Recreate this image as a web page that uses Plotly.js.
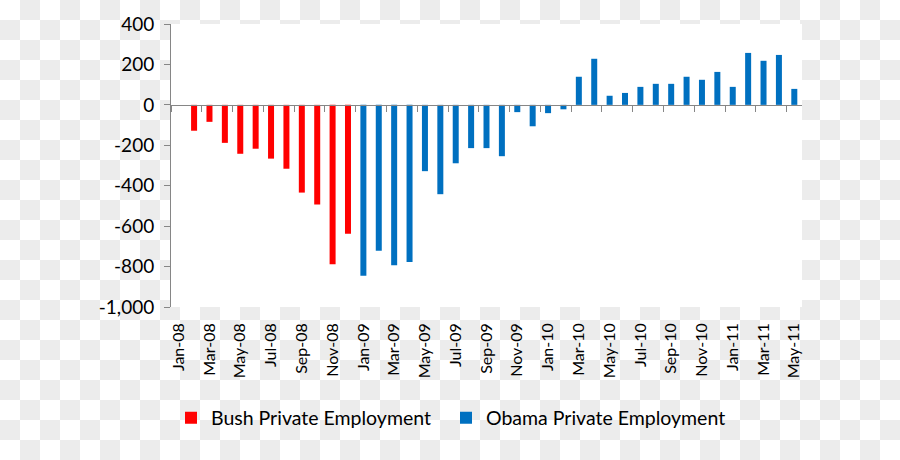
<!DOCTYPE html>
<html>
<head>
<meta charset="utf-8">
<script src="https://cdn.plot.ly/plotly-3.0.1.min.js"></script>
<style>
  html, body { margin:0; padding:0; }
  body {
    width:900px; height:460px; overflow:hidden;
    background: repeating-conic-gradient(#ececec 0 25%, #ffffff 0 50%) 0 0 / 40px 40px;
  }
  #chart { width:900px; height:460px; }
</style>
</head>
<body>
<div id="chart"></div>
<script>
// ---- data ----
const months = [
  "Jan-08","Feb-08","Mar-08","Apr-08","May-08","Jun-08","Jul-08","Aug-08","Sep-08","Oct-08","Nov-08","Dec-08",
  "Jan-09","Feb-09","Mar-09","Apr-09","May-09","Jun-09","Jul-09","Aug-09","Sep-09","Oct-09","Nov-09","Dec-09",
  "Jan-10","Feb-10","Mar-10","Apr-10","May-10","Jun-10","Jul-10","Aug-10","Sep-10","Oct-10","Nov-10","Dec-10",
  "Jan-11","Feb-11","Mar-11","Apr-11","May-11"
];
const bushPrivate = [
  null,-128,-84,-188,-242,-217,-266,-316,-434,-493,-789,-638,
  null,null,null,null,null,null,null,null,null,null,null,null,
  null,null,null,null,null,null,null,null,null,null,null,null,
  null,null,null,null,null
];
const obamaPrivate = [
  null,null,null,null,null,null,null,null,null,null,null,null,
  -846,-722,-793,-778,-328,-442,-289,-214,-214,-254,-36,-106,
  -41,-22,139,228,45,59,89,104,104,139,124,163,
  89,257,218,247,79
];
const yTickVals = [-1000,-800,-600,-400,-200,0,200,400];
const yTickText = ["-1,000","-800","-600","-400","-200","0","200","400"];
const yRange = [-1000, 400];
const seriesNames = ["Bush Private Employment","Obama Private Employment"];
const seriesColors = ["#ff0000","#0070c0"];

const axisGray = "#868686";
const zeroPos = (0 - yRange[0]) / (yRange[1] - yRange[0]);

const traces = [
  { type:"bar", name:seriesNames[0], x:months, y:bushPrivate,
    marker:{color:seriesColors[0]}, xaxis:"x", yaxis:"y", legend:"legend" },
  { type:"bar", name:seriesNames[1], x:months, y:obamaPrivate,
    marker:{color:seriesColors[1]}, xaxis:"x2", yaxis:"y", legend:"legend2" }
];

const legendCommon = {
  orientation:"h", xref:"container", yref:"container",
  xanchor:"left", y:0.091, yanchor:"middle",
  font:{size:19.5, color:"#000"}, bgcolor:"rgba(0,0,0,0)", itemwidth:30
};

const layout = {
  width:900, height:460,
  margin:{l:171, r:98, t:24, b:153},
  paper_bgcolor:"rgba(0,0,0,0)",
  plot_bgcolor:"#ffffff",
  font:{family:"Lato, 'Open Sans', sans-serif", color:"#000000", size:16},
  bargap:0.61,
  barmode:"relative",
  showlegend:true,
  legend:Object.assign({}, legendCommon, {x:171/900}),
  legend2:Object.assign({}, legendCommon, {x:446/900}),
  xaxis:{
    type:"category", categoryorder:"array", categoryarray:months,
    range:[-0.5, months.length-0.5],
    tickmode:"linear", tick0:0, dtick:2,
    tickangle:-90, ticks:"", showline:false, showgrid:false, zeroline:false,
    ticklabelstandoff:12,
    tickfont:{size:16, color:"#000"}
  },
  xaxis2:{
    type:"category", categoryorder:"array", categoryarray:months,
    overlaying:"x", anchor:"free", position:zeroPos,
    range:[-0.5, months.length-0.5],
    tickmode:"linear", tick0:0, dtick:2, tickson:"boundaries",
    ticks:"outside", ticklen:6, tickwidth:1, tickcolor:axisGray,
    showticklabels:false, showline:true, linecolor:axisGray, linewidth:1,
    showgrid:false, zeroline:false
  },
  yaxis:{
    range:yRange, tickmode:"array", tickvals:yTickVals, ticktext:yTickText,
    ticks:"outside", ticklen:6, tickcolor:axisGray, tickwidth:1,
    showline:true, linecolor:axisGray, linewidth:1,
    showgrid:false, zeroline:false,
    tickfont:{size:19, color:"#000"}, ticklabelstandoff:6
  }
};

Plotly.newPlot("chart", traces, layout, {staticPlot:true, displayModeBar:false});
</script>
</body>
</html>
